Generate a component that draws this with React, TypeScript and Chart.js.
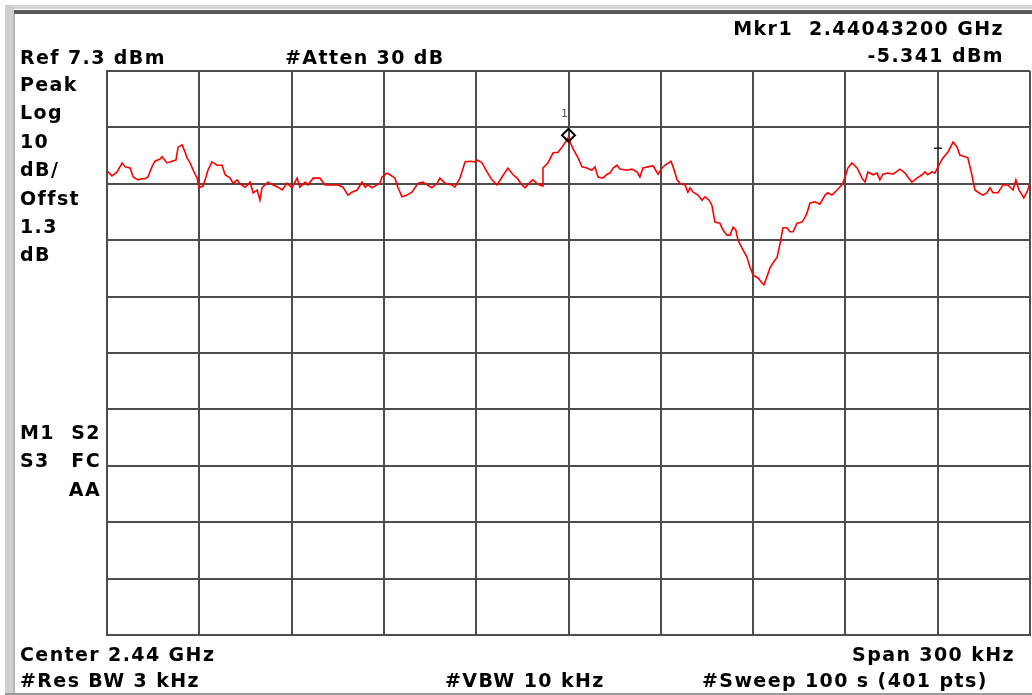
import React, { useEffect, useRef } from "react";
import { Chart, registerables } from "chart.js";

Chart.register(...registerables);

// Spectrum trace: [frequency offset from centre (kHz), level (dBm)]
const traceSegmentA: [number, number][] = [
  [-150, -10.4], [-148.4, -11.3], [-146.7, -10.6], [-145.1, -9.0], [-144.1, -9.7], [-142.5, -9.9],
  [-141.5, -11.5], [-139.9, -12.0], [-138.6, -11.8], [-137.6, -11.8], [-136.7, -11.5], [-135.4, -9.7],
  [-134.4, -8.7], [-132.8, -8.3], [-132.1, -7.9], [-130.5, -9.0], [-128.9, -8.7], [-127.6, -8.5],
  [-126.9, -6.2], [-125.6, -5.8], [-124.6, -7.1], [-124.0, -8.1], [-123.0, -9.0], [-122.0, -10.3],
  [-120.7, -11.7], [-120.1, -13.4], [-118.8, -13.1], [-118.1, -12.0], [-117.2, -10.3], [-115.9, -8.8],
  [-114.2, -9.4], [-112.6, -9.4], [-111.6, -11.1], [-110.0, -11.7], [-109.0, -12.6], [-107.7, -12.0],
  [-106.8, -12.7], [-105.1, -13.3], [-103.5, -12.4], [-102.5, -14.3], [-101.2, -13.8], [-100.3, -15.6],
  [-99.6, -13.4], [-97.7, -12.4], [-96.0, -12.9], [-94.4, -13.3], [-93.1, -13.8], [-91.5, -12.6],
  [-89.9, -13.4], [-88.2, -11.7], [-87.3, -13.3], [-85.6, -12.4], [-84.7, -12.9], [-83.0, -11.7],
  [-80.8, -11.7], [-79.1, -12.9], [-76.9, -12.9], [-74.9, -12.9],
];

const traceSegmentB: [number, number][] = [
  [-73.3, -13.3], [-71.7, -14.7], [-70.4, -14.2], [-68.7, -13.8], [-67.1, -12.4], [-66.1, -13.3],
  [-65.2, -12.9], [-63.9, -13.4], [-62.2, -12.9], [-61.3, -12.6], [-60.6, -11.5], [-59.0, -10.8],
  [-58.0, -11.1], [-56.4, -11.7], [-55.4, -13.4], [-54.1, -15.0], [-52.5, -14.7], [-50.9, -14.2],
  [-48.9, -12.6], [-47.3, -12.4], [-46.0, -12.9], [-44.4, -13.4], [-42.7, -12.6], [-41.8, -11.7],
  [-40.1, -12.6], [-37.9, -12.9], [-36.9, -13.3], [-35.3, -11.7], [-33.6, -8.8], [-32.0, -8.7],
  [-30.4, -8.8], [-29.4, -8.5], [-28.1, -9.0], [-26.5, -10.6], [-24.9, -12.0], [-23.2, -12.9],
  [-21.6, -11.5], [-19.7, -9.9], [-18.0, -11.1], [-16.7, -11.7], [-15.1, -12.9], [-14.1, -13.4],
  [-12.5, -12.4], [-11.5, -12.0], [-10.2, -12.7], [-8.6, -13.1], [-8.3, -9.9], [-6.7, -9.0],
  [-5.0, -7.2], [-3.4, -7.1], [-2.1, -6.2], [-0.5, -4.9], [0, -4.4],
];

const traceSegmentC: [number, number][] = [
  [0.5, -5.3], [1.5, -6.5], [3.1, -8.1], [4.4, -9.7], [6.0, -9.9], [7.6, -10.3], [8.6, -9.7],
  [9.6, -11.5], [11.2, -11.7], [12.5, -11.0], [13.5, -10.8], [14.5, -9.9], [15.8, -9.4], [16.7, -10.1],
  [19.0, -10.3], [20.6, -10.1], [22.3, -10.6], [23.2, -11.5], [24.2, -9.9], [25.8, -9.7], [27.5, -9.5],
  [29.1, -11.0], [30.4, -9.9], [31.4, -9.4], [33.3, -8.7], [34.0, -9.7], [35.3, -12.0], [36.2, -12.6],
  [37.9, -12.9], [38.8, -14.2], [39.5, -13.4], [40.5, -14.2], [42.1, -14.7], [43.4, -15.6], [44.4, -15.0],
  [45.7, -15.6], [46.6, -16.5], [47.6, -19.5], [49.2, -19.7], [50.2, -20.9], [51.5, -21.8], [52.5, -21.8],
  [53.5, -20.4], [54.4, -20.9], [55.1, -22.7], [56.4, -24.1], [58.0, -25.7], [59.0, -27.5], [60.0, -28.9],
  [61.6, -29.4], [62.9, -30.3], [63.5, -30.6], [64.5, -29.2], [65.5, -27.6], [66.5, -26.7], [67.8, -25.7],
  [68.7, -23.5], [69.7, -20.5], [71.0, -20.5], [72.0, -21.2], [73.0, -21.2], [74.3, -19.7], [75.9, -19.5],
  [76.9, -18.6],
];

const traceSegmentD: [number, number][] = [
  [77.5, -17.9], [78.5, -16.1], [80.1, -15.9], [81.7, -16.3], [83.4, -14.7], [84.3, -14.3], [85.6, -14.7],
  [87.3, -13.8], [88.9, -12.9], [89.9, -11.5], [90.8, -9.9], [92.1, -9.0], [93.8, -9.9], [95.4, -11.7],
  [96.4, -12.4], [97.3, -10.6], [99.0, -11.1], [100.3, -10.8], [101.2, -12.0], [102.2, -11.0], [103.8, -10.8],
  [105.5, -11.0], [107.7, -10.1], [109.4, -10.8], [110.3, -11.5], [111.6, -12.4], [113.3, -11.7], [114.9, -11.1],
  [115.9, -10.6], [116.8, -11.1], [118.1, -10.6], [119.1, -10.8], [120.1, -9.7], [121.7, -8.1], [123.3, -7.1],
  [125.0, -5.3], [126.3, -6.2], [127.2, -7.6], [128.9, -7.9], [129.8, -8.1], [131.1, -11.1], [132.1, -13.8],
  [133.1, -14.2], [134.7, -14.7], [136.0, -14.3], [137.0, -13.4], [138.0, -14.3], [139.6, -14.3], [141.2, -12.9],
  [142.8, -12.9], [144.5, -13.8], [145.4, -12.0], [146.4, -13.8], [148.0, -15.2], [149.3, -13.8], [150.0, -12.4],
];

// Marker 1 and the small reference tick
const marker1: [number, number] = [0, -4.1];
const refTick: [number, number] = [120.1, -6.4];

// Display: Ref 7.3 dBm, 10 dB/div, span 300 kHz (10 div)
const xGridKHz = [-150, -120, -90, -60, -30, 0, 30, 60, 90, 120, 150];
const yGridDbm = [7.3, -2.7, -12.7, -22.7, -32.7, -42.7, -52.7, -62.7, -72.7, -82.7, -92.7];

const FONT = "'DejaVu Sans', sans-serif";

type Lbl = { text: string; top: number; left?: number; right?: number };
const labels: Lbl[] = [
  { text: "Mkr1  2.44043200 GHz", top: 19, right: 28 },
  { text: "-5.341 dBm", top: 46, right: 28 },
  { text: "Ref 7.3 dBm", top: 48, left: 20 },
  { text: "#Atten 30 dB", top: 48, left: 285 },
  { text: "Peak", top: 75, left: 20 },
  { text: "Log", top: 103, left: 20 },
  { text: "10", top: 132, left: 20 },
  { text: "dB/", top: 160, left: 20 },
  { text: "Offst", top: 189, left: 20 },
  { text: "1.3", top: 217, left: 20 },
  { text: "dB", top: 245, left: 20 },
  { text: "M1", top: 423, left: 20 },
  { text: "S2", top: 423, right: 1032 - 101 },
  { text: "S3", top: 451, left: 20 },
  { text: "FC", top: 451, right: 1032 - 101 },
  { text: "AA", top: 480, right: 1032 - 101 },
  { text: "Center 2.44 GHz", top: 645, left: 20 },
  { text: "Span 300 kHz", top: 645, right: 17 },
  { text: "#Res BW 3 kHz", top: 671, left: 20 },
  { text: "#VBW 10 kHz", top: 671, left: 445 },
  { text: "#Sweep 100 s (401 pts)", top: 671, left: 702 },
];

export default function App() {
  const canvasRef = useRef<HTMLCanvasElement | null>(null);

  useEffect(() => {
    if (!canvasRef.current) return;
    const trace = [...traceSegmentA, ...traceSegmentB, ...traceSegmentC, ...traceSegmentD].map(
      ([x, y]) => ({ x, y })
    );
    const gridColor = "#4d4d4d";
    const chart = new Chart(canvasRef.current, {
      type: "line",
      data: {
        datasets: [
          {
            label: "Marker 1",
            data: [{ x: marker1[0], y: marker1[1] }],
            showLine: false,
            pointStyle: "rectRot",
            pointRadius: 6.5,
            pointBorderWidth: 2,
            pointBorderColor: "#000",
            pointBackgroundColor: "rgba(255,255,255,0)",
          },
          {
            label: "Ref",
            data: [{ x: refTick[0], y: refTick[1] }],
            showLine: false,
            pointStyle: "line",
            pointRadius: 4,
            pointBorderWidth: 1.5,
            pointBorderColor: "#222",
          },
          {
            label: "Trace",
            data: trace,
            borderColor: "#ff0000",
            borderWidth: 1.6,
            pointRadius: 0,
            tension: 0,
            fill: false,
          },
        ],
      },
      options: {
        animation: false,
        responsive: false,
        maintainAspectRatio: false,
        layout: { autoPadding: false, padding: { left: 107, top: 71, right: 2, bottom: 60 } },
        plugins: { legend: { display: false }, tooltip: { enabled: false } },
        scales: {
          x: {
            type: "linear",
            min: -150,
            max: 150,
            afterBuildTicks: (s: any) => {
              s.ticks = xGridKHz.map((v) => ({ value: v }));
            },
            ticks: { display: false },
            grid: { color: gridColor, lineWidth: 2, drawTicks: false },
            border: { color: gridColor, width: 2 },
          },
          y: {
            type: "linear",
            min: -92.7,
            max: 7.3,
            afterBuildTicks: (s: any) => {
              s.ticks = yGridDbm.map((v) => ({ value: v }));
            },
            ticks: { display: false },
            grid: { color: gridColor, lineWidth: 2, drawTicks: false },
            border: { color: gridColor, width: 2 },
          },
        },
      },
    });
    return () => chart.destroy();
  }, []);

  return (
    <div
      style={{
        position: "fixed",
        left: 0,
        top: 0,
        width: 1032,
        height: 695,
        background: "#fff",
        overflow: "hidden",
        fontFamily: FONT,
      }}
    >
      <div style={{ position: "absolute", left: 5, top: 5, width: 1027, height: 4, background: "#d4d4d4" }} />
      <div style={{ position: "absolute", left: 5, top: 10, width: 1027, height: 4, background: "#5a5a5a" }} />
      <div style={{ position: "absolute", left: 5, top: 5, width: 9, height: 690, background: "#cfcfcf" }} />
      <div style={{ position: "absolute", left: 13, top: 14, width: 2, height: 681, background: "#b5b5b5" }} />
      <div style={{ position: "absolute", left: 5, top: 693, width: 1027, height: 2, background: "#9a9a9a" }} />
      <canvas
        ref={canvasRef}
        width={1032}
        height={695}
        style={{ position: "absolute", left: 0, top: 0, width: 1032, height: 695 }}
      />
      {labels.map((l, i) => (
        <div
          key={i}
          style={{
            position: "absolute",
            top: l.top,
            left: l.left,
            right: l.right,
            fontSize: 19,
            lineHeight: "19px",
            fontWeight: "bold",
            letterSpacing: 1.4,
            whiteSpace: "pre",
            color: "#000",
          }}
        >
          {l.text}
        </div>
      ))}
      <div
        style={{
          position: "absolute",
          left: 561,
          top: 108,
          fontSize: 11,
          lineHeight: "11px",
          fontFamily: "'DejaVu Sans Mono', monospace",
          color: "#555",
        }}
      >
        1
      </div>
    </div>
  );
}
